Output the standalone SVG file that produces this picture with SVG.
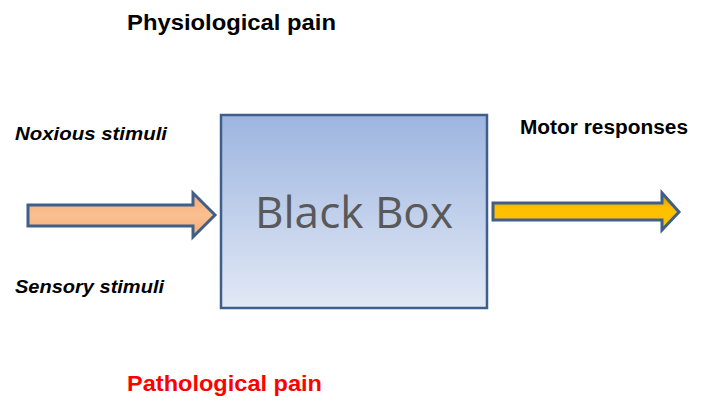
<svg xmlns="http://www.w3.org/2000/svg" width="705" height="403" viewBox="0 0 705 403">
<style>
.lbl{font-family:"Liberation Sans",Arial,sans-serif;font-weight:bold;font-size:19px;fill:#000}
.it{font-style:italic}
.arrow{stroke:#3f5f8a;stroke-width:3;stroke-linejoin:miter}
</style>
<defs>
<linearGradient id="boxg" x1="0" y1="0" x2="0" y2="1">
<stop offset="0" stop-color="#9db5e0"/>
<stop offset="1" stop-color="#e2e9f5"/>
</linearGradient>
<linearGradient id="og" x1="0" y1="0" x2="0" y2="1">
<stop offset="0" stop-color="#f6a875"/>
<stop offset="0.5" stop-color="#fac090"/>
<stop offset="1" stop-color="#f6a875"/>
</linearGradient>
<linearGradient id="yg" x1="0" y1="0" x2="0" y2="1">
<stop offset="0" stop-color="#c89500"/>
<stop offset="0.4" stop-color="#ffc000"/>
<stop offset="1" stop-color="#ffc000"/>
</linearGradient>
</defs>
<g id="title-top"><text class="lbl" x="127" y="30" style="font-size:22.5px" textLength="209" lengthAdjust="spacingAndGlyphs">Physiological pain</text></g>
<g id="title-bottom"><text class="lbl" x="127" y="391" style="font-size:22.5px;fill:#ff0000" textLength="195" lengthAdjust="spacingAndGlyphs">Pathological pain</text></g>
<g id="noxious"><text class="lbl it" x="15" y="140" style="font-size:18px" textLength="152" lengthAdjust="spacingAndGlyphs">Noxious stimuli</text></g>
<g id="sensory"><text class="lbl it" x="15" y="293" style="font-size:18px" textLength="149" lengthAdjust="spacingAndGlyphs">Sensory stimuli</text></g>
<g id="motor"><text class="lbl" x="520" y="134" style="font-size:20px" textLength="168" lengthAdjust="spacingAndGlyphs">Motor responses</text></g>
<g id="blackbox">
<rect x="221" y="115" width="266" height="193" fill="url(#boxg)" stroke="#3f5f8a" stroke-width="2.5"/>
<text x="255" y="228" font-family="'Open Sans','Noto Sans',sans-serif" font-size="43" fill="#595959" textLength="198" lengthAdjust="spacingAndGlyphs">Black Box</text>
</g>
<g id="connectors">
<polygon class="arrow" fill="url(#og)" points="28,205 193,205 193,193 215,215 193,237 193,226 28,226"/>
<polygon class="arrow" fill="url(#yg)" points="493,203 662,203 662,193 679,212 662,230 662,220 493,220"/>
</g>
</svg>
